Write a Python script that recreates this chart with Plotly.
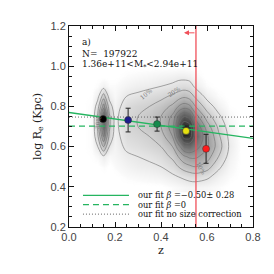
import plotly.graph_objects as go

# ---- data ----
pt_z = [0.148, 0.257, 0.383, 0.509, 0.596]
pt_logre = [0.737, 0.732, 0.712, 0.678, 0.589]
pt_err = [0.010, 0.059, 0.035, 0.024, 0.072]
pt_colors = ["#000000", "#1c1c8c", "#148a4c", "#e6e010", "#ff1a1a"]

fit_z = [0.0, 0.8]
fit_logre = [0.770, 0.641]          # our fit beta=-0.50
flat_logre = [0.702, 0.702]         # our fit beta=0
nocorr_logre = [0.747, 0.747]       # no size correction

zlim = 0.552
yrange = [0.2, 1.2]
arrow_z = [0.552, 0.500]
arrow_y = 1.166

# density grid (darkness 0..1)
grid_z = [0.05, 0.10, 0.125, 0.15, 0.175, 0.20, 0.25, 0.30, 0.35, 0.40, 0.45,
          0.475, 0.50, 0.525, 0.55, 0.60, 0.65, 0.70, 0.75]
grid_y = [0.40, 0.45, 0.50, 0.55, 0.60, 0.65, 0.70, 0.75, 0.80, 0.85, 0.90, 0.95, 1.00]
density = [
    [0, 0, 0, 0, 0, 0, 0, 0, 0, 0, 0.02, 0.03, 0.04, 0.05, 0.05, 0.04, 0.02, 0, 0],
    [0, 0, 0, 0, 0, 0, 0.02, 0.03, 0.04, 0.05, 0.08, 0.10, 0.12, 0.14, 0.15, 0.12, 0.06, 0.02, 0],
    [0, 0, 0, 0.02, 0, 0.02, 0.05, 0.07, 0.08, 0.10, 0.15, 0.20, 0.25, 0.28, 0.30, 0.25, 0.12, 0.04, 0],
    [0, 0.01, 0.03, 0.08, 0.03, 0.04, 0.08, 0.10, 0.12, 0.15, 0.22, 0.30, 0.38, 0.42, 0.42, 0.35, 0.20, 0.06, 0],
    [0, 0.02, 0.10, 0.30, 0.10, 0.05, 0.12, 0.14, 0.17, 0.20, 0.30, 0.45, 0.60, 0.62, 0.55, 0.42, 0.25, 0.08, 0],
    [0, 0.02, 0.18, 0.50, 0.18, 0.06, 0.15, 0.17, 0.20, 0.25, 0.40, 0.65, 0.85, 0.85, 0.65, 0.42, 0.22, 0.07, 0],
    [0, 0.02, 0.22, 0.65, 0.22, 0.07, 0.17, 0.20, 0.24, 0.30, 0.45, 0.70, 0.90, 0.85, 0.60, 0.35, 0.18, 0.05, 0],
    [0, 0.02, 0.22, 0.70, 0.22, 0.07, 0.17, 0.20, 0.24, 0.30, 0.42, 0.60, 0.70, 0.65, 0.45, 0.25, 0.12, 0.03, 0],
    [0, 0.02, 0.15, 0.45, 0.15, 0.05, 0.15, 0.18, 0.20, 0.25, 0.32, 0.40, 0.45, 0.42, 0.30, 0.15, 0.06, 0.01, 0],
    [0, 0.01, 0.07, 0.25, 0.07, 0.03, 0.10, 0.12, 0.15, 0.17, 0.22, 0.25, 0.28, 0.25, 0.18, 0.07, 0.02, 0, 0],
    [0, 0, 0.02, 0.06, 0.02, 0.02, 0.05, 0.07, 0.08, 0.10, 0.12, 0.14, 0.15, 0.14, 0.08, 0.02, 0, 0, 0],
    [0, 0, 0, 0, 0, 0, 0.02, 0.03, 0.04, 0.05, 0.06, 0.07, 0.07, 0.06, 0.03, 0, 0, 0, 0],
    [0] * 19,
]

contour_labels = ["10%", "20%", "10%", "30%"]
contour_label_z = [0.335, 0.455, 0.575, 0.125]
contour_label_y = [0.865, 0.875, 0.49, 0.72]
contour_label_rot = [-40, -35, 60, -80]

legend_labels = ["our fit <i>β</i> =\u22120.50\u00b1 0.28", "our fit <i>β</i> =0",
                 "our fit no size correction"]

GREEN = "#25b560"
SERIF = "DejaVu Serif"

fig = go.Figure()

fig.add_trace(go.Heatmap(x=grid_z, y=grid_y, z=density, zsmooth="best",
                         colorscale=[[0, "rgba(255,255,255,0)"], [0.02, "#fbfbfb"], [1, "#101010"]],
                         zmin=0, zmax=1, showscale=False, hoverinfo="skip"))
fig.add_trace(go.Contour(x=grid_z, y=grid_y, z=density,
                         contours=dict(coloring="none", start=0.1, end=0.9, size=0.1),
                         line=dict(color="rgba(110,110,110,0.85)", width=0.7, smoothing=1),
                         showscale=False, hoverinfo="skip"))

fig.add_trace(go.Scatter(x=fit_z, y=fit_logre, mode="lines",
                         line=dict(color=GREEN, width=1.4), showlegend=False))
fig.add_trace(go.Scatter(x=fit_z, y=flat_logre, mode="lines",
                         line=dict(color=GREEN, width=1.2, dash="6px,4px"), showlegend=False))
fig.add_trace(go.Scatter(x=fit_z, y=nocorr_logre, mode="lines",
                         line=dict(color="#666666", width=1, dash="1px,2px"), showlegend=False))

fig.add_trace(go.Scatter(x=[zlim, zlim], y=yrange, mode="lines",
                         line=dict(color="#f0505a", width=1.3), showlegend=False))

fig.add_trace(go.Scatter(x=pt_z, y=pt_logre, mode="markers",
                         error_y=dict(type="data", array=pt_err, color="#222222",
                                      thickness=1, width=2.5),
                         marker=dict(color=pt_colors, size=7,
                                     line=dict(color="#333333", width=0.5)),
                         showlegend=False))

ann = []
for t, x, y, r in zip(contour_labels, contour_label_z, contour_label_y, contour_label_rot):
    ann.append(dict(x=x, y=y, xref="x", yref="y", text=t, showarrow=False,
                    textangle=r, font=dict(family=SERIF, size=6, color="#777777")))

ann.append(dict(x=arrow_z[1], y=arrow_y, ax=arrow_z[0], ay=arrow_y, xref="x", yref="y",
                axref="x", ayref="y", text="", showarrow=True, arrowhead=2,
                arrowsize=1, arrowwidth=1, arrowcolor="#f0505a"))

top_text = ["a)", "N=  197922", "1.36e+11&lt;M<sub>*</sub>&lt;2.94e+11"]
top_y = [1.12, 1.063, 1.006]
for t, y in zip(top_text, top_y):
    ann.append(dict(x=0.048, y=y, xref="x", yref="y", text=t, showarrow=False,
                    xanchor="left", yanchor="middle",
                    font=dict(family=SERIF, size=9, color="#111111")))

shapes = []
leg_y = [0.157, 0.111, 0.064]
leg_style = [dict(color=GREEN, width=1.2), dict(color=GREEN, width=1.2, dash="6px,4px"),
             dict(color="#666666", width=1, dash="1px,2px")]
for lab, y, st in zip(legend_labels, leg_y, leg_style):
    shapes.append(dict(type="line", xref="paper", yref="paper", x0=0.076, x1=0.326,
                       y0=y, y1=y, line=st))
    ann.append(dict(x=0.364, y=y, xref="paper", yref="paper", text=lab, showarrow=False,
                    xanchor="left", yanchor="middle",
                    font=dict(family=SERIF, size=8.3, color="#111111")))

axis_common = dict(showgrid=False, zeroline=False, showline=True, linecolor="#111111",
                   linewidth=1, mirror="ticks", ticks="inside", ticklen=5,
                   tickcolor="#111111", tickwidth=1,
                   tickfont=dict(family="Liberation Sans", size=11, color="#444444"))

fig.update_layout(
    width=266, height=266,
    margin=dict(l=61, r=21, t=15, b=47),
    paper_bgcolor="white", plot_bgcolor="white",
    xaxis=dict(range=[0, 0.8], dtick=0.2, tickformat=".1f",
               minor=dict(ticks="inside", dtick=0.05, ticklen=3, tickcolor="#111111"),
               title=dict(text="z", font=dict(family=SERIF, size=11, color="#222222"),
                          standoff=4),
               **axis_common),
    yaxis=dict(range=yrange, dtick=0.2, tickformat=".1f",
               minor=dict(ticks="inside", dtick=0.05, ticklen=3, tickcolor="#111111"),
               title=dict(text="log R<sub>e</sub> (Kpc)",
                          font=dict(family=SERIF, size=11, color="#222222"), standoff=6),
               **axis_common),
    annotations=ann, shapes=shapes, showlegend=False,
)

fig.write_html("out.html")
